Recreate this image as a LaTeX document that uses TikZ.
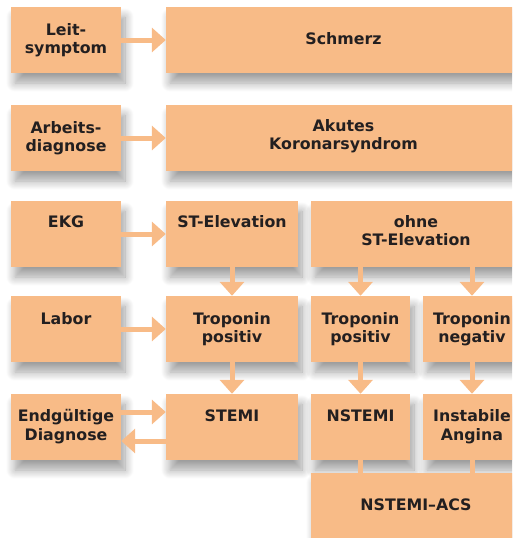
\documentclass[tikz,border=0pt]{standalone}
\usepackage{fontspec}
\setmainfont{DejaVu Sans}
\usetikzlibrary{arrows.meta,shadows.blur}
\definecolor{peach}{HTML}{F8BB87}
\definecolor{ink}{HTML}{231F20}
\newcommand\tx[1]{\begin{tabular}[t]{@{}c@{}}#1\end{tabular}}
\begin{document}
\begin{tikzpicture}[x=1pt,y=-1pt,
  box/.style={fill=peach, draw=none, inner sep=0, minimum height=66,
    blur shadow={shadow xshift=4pt, shadow yshift=-10pt, shadow blur radius=9pt, shadow blur steps=12, shadow opacity=38}},
  lbl/.style={anchor=base, inner sep=0, text=ink, font=\bfseries\fontsize{15.8}{18.5}\selectfont},
  arr/.style={draw=peach, line width=5pt, -{Triangle[length=14pt,width=24pt]}},
  conn/.style={draw=peach, line width=5pt}]
\useasboundingbox (0,0) rectangle (512,538);
\clip (0,0) rectangle (512,538);
% boxes
\node[box, minimum width=110] (leit) at (66,40) {};
\node[box, minimum width=355] (schmerz) at (343.5,40) {};
\node[box, minimum width=110] (arbeit) at (66,138) {};
\node[box, minimum width=355] (akut) at (343.5,138) {};
\node[box, minimum width=110] (ekg) at (66,234) {};
\node[box, minimum width=132] (stel) at (232,234) {};
\node[box, minimum width=210] (ohne) at (416,234) {};
\node[box, minimum width=110] (labor) at (66,329) {};
\node[box, minimum width=132] (tposa) at (232,329) {};
\node[box, minimum width=99] (tposb) at (360.5,329) {};
\node[box, minimum width=98] (tneg) at (472,329) {};
\node[box, minimum width=110] (endg) at (66,427) {};
\node[box, minimum width=132] (stemi) at (232,427) {};
\node[box, minimum width=99] (nstemi) at (360.5,427) {};
\node[box, minimum width=98] (instab) at (472,427) {};
\node[box, minimum width=210] (acs) at (416,506) {};
% arrows
\draw[arr] (leit.east) -- (leit.east -| schmerz.west);
\draw[arr] (arbeit.east) -- (arbeit.east -| akut.west);
\draw[arr] (ekg.east) -- (ekg.east -| stel.west);
\draw[arr] (labor.east) -- (labor.east -| tposa.west);
\draw[arr] ([yshift=15pt]endg.east) -- ([yshift=15pt]endg.east -| stemi.west);
\draw[arr] ([yshift=-14pt]stemi.west) -- ([yshift=-14pt]stemi.west -| endg.east);
\draw[arr] (stel.south) -- (tposa.north);
\draw[arr] (tposa.south) -- (stemi.north);
\draw[arr] (ohne.south -| tposb.north) -- (tposb.north);
\draw[arr] (ohne.south -| tneg.north) -- (tneg.north);
\draw[arr] (tposb.south) -- (nstemi.north);
\draw[arr] (tneg.south) -- (instab.north);
\draw[conn] (nstemi.south) -- (nstemi.south |- acs.north);
\draw[conn] (instab.south) -- (instab.south |- acs.north);
% labels
\node[lbl] (tleit) at (66,35) {\tx{Leit-\\symptom}};
\node[lbl] (tschmerz) at (343.5,44) {\tx{Schmerz}};
\node[lbl] (tarbeit) at (66,133) {\tx{Arbeits-\\diagnose}};
\node[lbl] (takut) at (343.5,131) {\tx{Akutes\\Koronarsyndrom}};
\node[lbl] (tekg) at (66,227.5) {\tx{EKG}};
\node[lbl] (tstel) at (232,227.5) {\tx{ST-Elevation}};
\node[lbl] (tohne) at (416,227) {\tx{ohne\\ST-Elevation}};
\node[lbl] (tlabor) at (66,324.5) {\tx{Labor}};
\node[lbl] (ttposa) at (232,324) {\tx{Troponin\\positiv}};
\node[lbl] (ttposb) at (360.5,324) {\tx{Troponin\\positiv}};
\node[lbl] (ttneg) at (472,324) {\tx{Troponin\\negativ}};
\node[lbl] (tendg) at (66,421.5) {\tx{Endgültige\\Diagnose}};
\node[lbl] (tstemi) at (232,421.5) {\tx{STEMI}};
\node[lbl] (tnstemi) at (360.5,421.5) {\tx{NSTEMI}};
\node[lbl] (tinstab) at (472,421.5) {\tx{Instabile\\Angina}};
\node[lbl] (tacs) at (416,510.5) {\tx{NSTEMI–ACS}};
\end{tikzpicture}
\end{document}
